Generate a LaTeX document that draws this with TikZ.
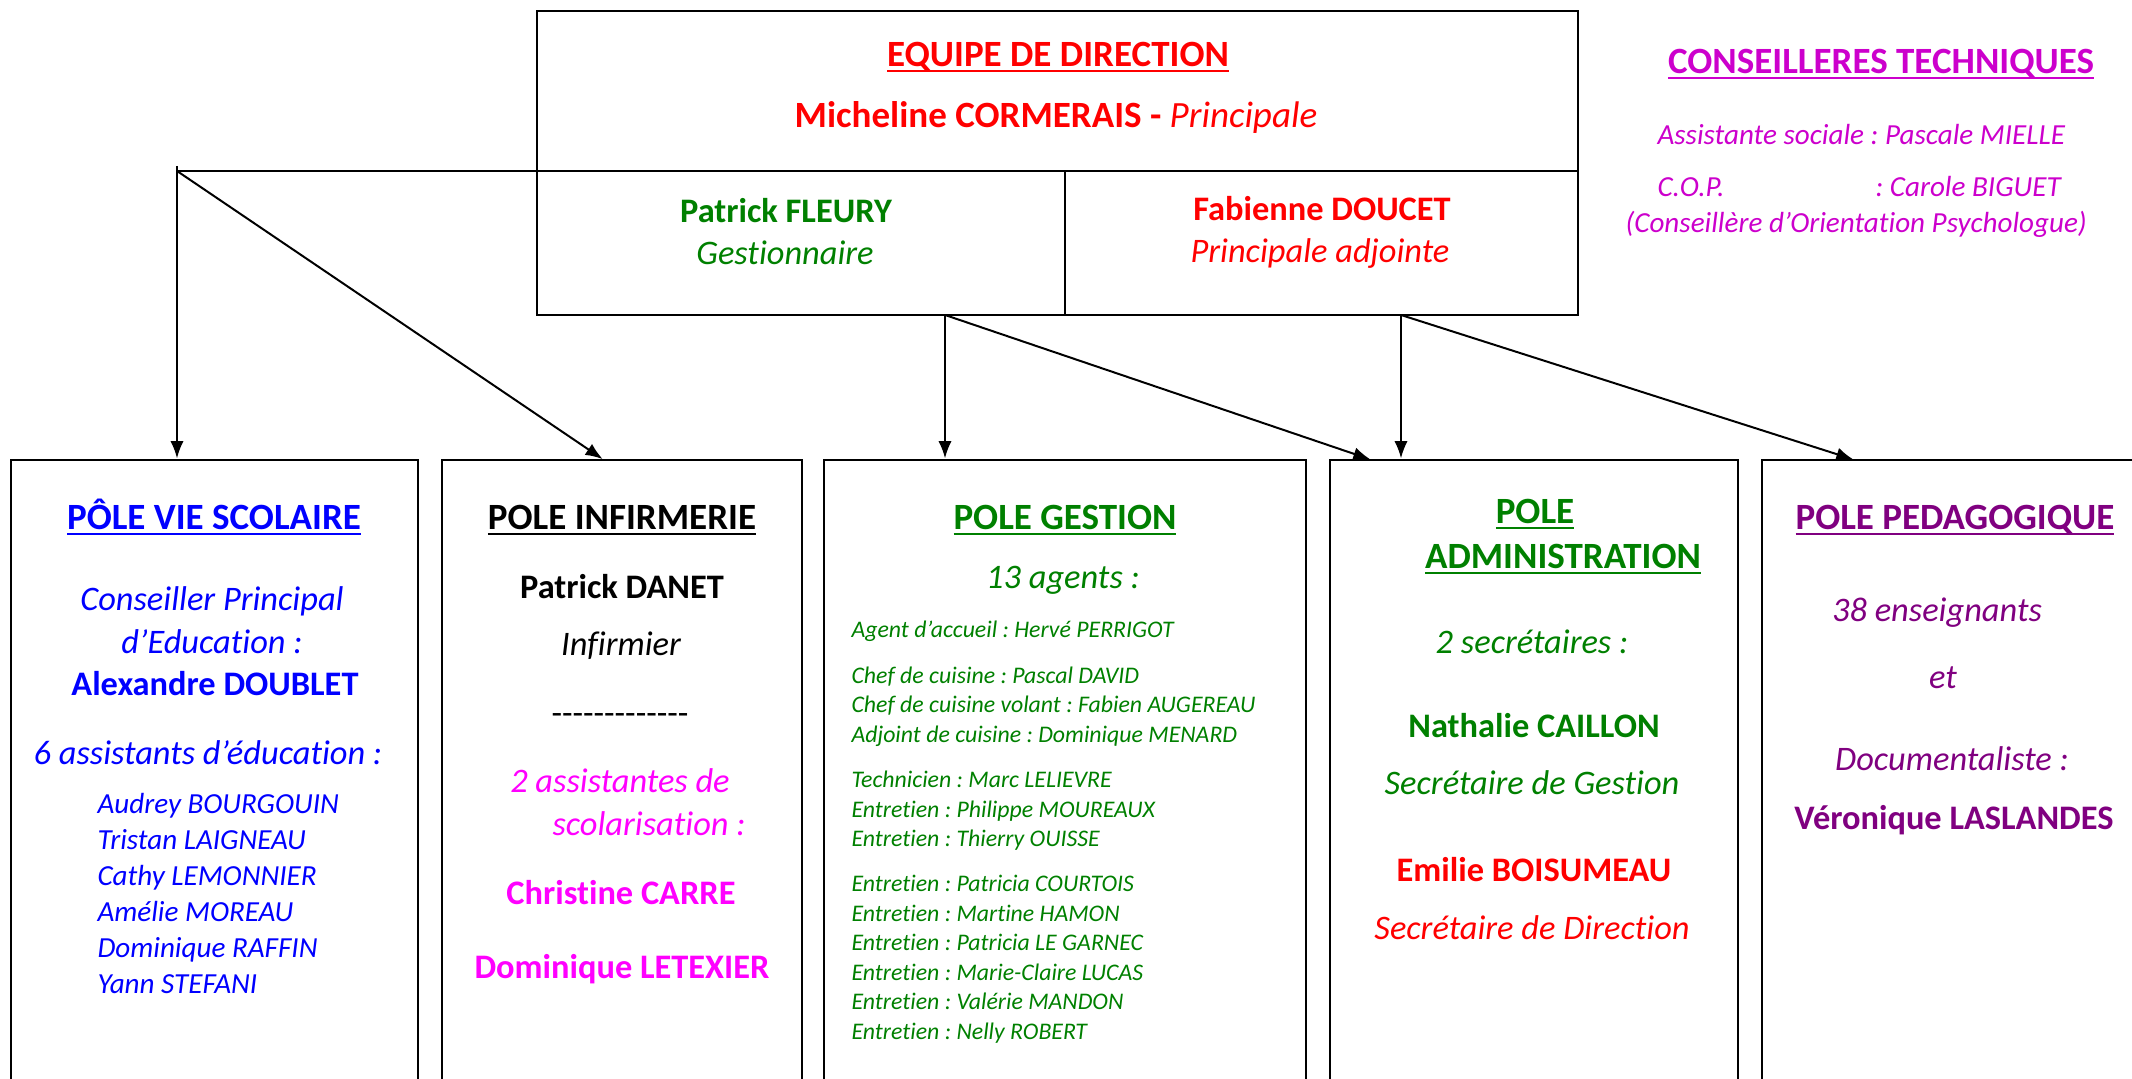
\documentclass[tikz,border=0pt]{standalone}
\usepackage{fontspec}
\setmainfont{Carlito}[Ligatures={NoCommon}]
\usetikzlibrary{arrows.meta,calc}
\definecolor{cred}{HTML}{FF0000}
\definecolor{cgreen}{HTML}{008000}
\definecolor{cblue}{HTML}{0000FF}
\definecolor{cmag}{HTML}{FF00FF}
\definecolor{cct}{HTML}{CC00CC}
\definecolor{cpurple}{HTML}{800080}
\newcommand{\myul}[1]{\setbox0=\hbox{#1}\rlap{\rule[-0.14em]{\wd0}{0.065em}}\box0}
\newcommand{\fA}{\fontsize{14}{17}\selectfont}
\newcommand{\fB}{\fontsize{13}{16}\selectfont}
\newcommand{\fC}{\fontsize{11}{13}\selectfont}
\newcommand{\fD}{\fontsize{9}{11}\selectfont}
\newcommand{\hy}{\mbox{-}}
\frenchspacing
\begin{document}
\begin{tikzpicture}[x=0.378pt, y=-0.378pt,
  box/.style={draw, line width=0.95pt, inner sep=0pt, outer sep=0pt, anchor=north west},
  lbl/.style={inner sep=0pt, anchor=base},
  lblw/.style={inner sep=0pt, anchor=base west},
  conn/.style={line width=0.75pt, -{Latex[length=6.5pt,width=5pt]}, shorten >=0.6pt}]
\useasboundingbox (0,0) rectangle (2132,1079);
\clip (0,0) rectangle (2132,1079);

% top box
\node[box, minimum width=1041*0.378pt, minimum height=160*0.378pt] (head) at (537,11) {};
\node[box, minimum width=528*0.378pt, minimum height=144*0.378pt] (fleury) at (537,171) {};
\node[box, minimum width=513*0.378pt, minimum height=144*0.378pt] (doucet) at (1065,171) {};

% poles
\node[box, minimum width=407*0.378pt, minimum height=640*0.378pt] (p1) at (11,460) {};
\node[box, minimum width=360*0.378pt, minimum height=640*0.378pt] (p2) at (442,460) {};
\node[box, minimum width=482*0.378pt, minimum height=640*0.378pt] (p3) at (824,460) {};
\node[box, minimum width=408*0.378pt, minimum height=640*0.378pt] (p4) at (1330,460) {};
\node[box, minimum width=420*0.378pt, minimum height=640*0.378pt] (p5) at (1762,460) {};

% connectors
\coordinate (jn) at (177,171);
\draw[line width=0.75pt] (head.south west) -- (jn);
\draw[conn] ($(jn)+(0,-5)$) -- (jn |- p1.north);
\draw[conn] (jn) -- ($(p2.north west)+(162,0)$);
\coordinate (f1) at ($(fleury.south west)+(408,0)$);
\draw[conn] (f1) -- (f1 |- p3.north);
\draw[conn] (f1) -- ($(p4.north west)+(42,0)$);
\coordinate (d1) at ($(doucet.south west)+(336,0)$);
\draw[conn] (d1) -- (d1 |- p4.north);
\draw[conn] (d1) -- ($(p5.north west)+(93,0)$);

% top texts
\node[lbl, text=cred, font=\fA\bfseries] (t1) at (1058,67) {\myul{EQUIPE DE DIRECTION}};
\node[lbl, text=cred, font=\fA] (t2) at (1056,128) {\textbf{Micheline CORMERAIS -} \textit{Principale}};
\node[lbl, text=cgreen, font=\fB\bfseries] (t3) at (786,223) {Patrick FLEURY};
\node[lbl, text=cgreen, font=\fB\itshape] (t4) at (785,265) {Gestionnaire};
\node[lbl, text=cred, font=\fB\bfseries] (t5) at (1322,221) {Fabienne DOUCET};
\node[lbl, text=cred, font=\fB\itshape] (t6) at (1320,263) {Principale adjointe};

% conseilleres
\node[lbl, text=cct, font=\fA\bfseries] (c1) at (1881,74) {\myul{CONSEILLERES TECHNIQUES}};
\node[lblw, text=cct, font=\fC\itshape] (c2) at (1657,145) {Assistante sociale : Pascale MIELLE};
\node[lblw, text=cct, font=\fC\itshape] (c3) at (1657,197) {C.O.P.};
\node[lblw, text=cct, font=\fC\itshape] (c4) at (1875,197) {: Carole BIGUET};
\node[lblw, text=cct, font=\fC\itshape] (c5) at (1625,233) {(Conseillère d’Orientation Psychologue)};

% pole vie scolaire
\node[lbl, text=cblue, font=\fA\bfseries] (a1) at (214,530) {\myul{PÔLE VIE SCOLAIRE}};
\node[lbl, text=cblue, font=\fB\itshape] (a2) at (212,611) {Conseiller Principal};
\node[lbl, text=cblue, font=\fB\itshape] (a3) at (212,654) {d’Education :};
\node[lbl, text=cblue, font=\fB\bfseries] (a4) at (215,696) {Alexandre DOUBLET};
\node[lbl, text=cblue, font=\fB\itshape] (a5) at (208,765) {6 assistants d’éducation :};
\foreach \n [count=\i] in {Audrey BOURGOUIN, Tristan LAIGNEAU, Cathy LEMONNIER, Amélie MOREAU, Dominique RAFFIN, Yann STEFANI}
  \node[lblw, text=cblue, font=\fC\itshape] (an\i) at (97,778+36*\i) {\n};

% pole infirmerie
\node[lbl, font=\fA\bfseries] (b1) at (622,530) {\myul{POLE INFIRMERIE}};
\node[lbl, font=\fB\bfseries] (b2) at (622,599) {Patrick DANET};
\node[lbl, font=\fB\itshape] (b3) at (621,656) {Infirmier};
\node[lbl, font=\fB] (b4) at (620,725) {\hy\hy\hy\hy\hy\hy\hy\hy\hy\hy\hy\hy\hy};
\node[lbl, text=cmag, font=\fB\itshape] (b5) at (620,793) {2 assistantes de};
\node[lblw, text=cmag, font=\fB\itshape] (b6) at (552,836) {scolarisation :};
\node[lbl, text=cmag, font=\fB\bfseries] (b7) at (621,905) {Christine CARRE};
\node[lbl, text=cmag, font=\fB\bfseries] (b8) at (622,979) {Dominique LETEXIER};

% pole gestion
\node[lbl, text=cgreen, font=\fA\bfseries] (g1) at (1065,530) {\myul{POLE GESTION}};
\node[lbl, text=cgreen, font=\fB\itshape] (g2) at (1063,589) {13 agents :};
\foreach \yy/\s [count=\i] in {638/Agent d’accueil : Hervé PERRIGOT,
  684/Chef de cuisine : Pascal DAVID,
  713/Chef de cuisine volant : Fabien AUGEREAU,
  743/Adjoint de cuisine : Dominique MENARD,
  788/Technicien : Marc LELIEVRE,
  818/Entretien : Philippe MOUREAUX,
  847/Entretien : Thierry OUISSE,
  892/Entretien : Patricia COURTOIS,
  922/Entretien : Martine HAMON,
  951/Entretien : Patricia LE GARNEC,
  981/Entretien : Marie-Claire LUCAS,
  1010/Entretien : Valérie MANDON,
  1040/Entretien : Nelly ROBERT}
  \node[lblw, text=cgreen, font=\fD\itshape] (gl\i) at (851,\yy) {\s};

% pole administration
\node[lbl, text=cgreen, font=\fA\bfseries] (d1t) at (1535,524) {\myul{POLE}};
\node[lbl, text=cgreen, font=\fA\bfseries] (d2t) at (1563,569) {\myul{ADMINISTRATION}};
\node[lbl, text=cgreen, font=\fB\itshape] (d3t) at (1532,654) {2 secrétaires :};
\node[lbl, text=cgreen, font=\fB\bfseries] (d4t) at (1534,738) {Nathalie CAILLON};
\node[lbl, text=cgreen, font=\fB\itshape] (d5t) at (1532,795) {Secrétaire de Gestion};
\node[lbl, text=cred, font=\fB\bfseries] (d6t) at (1534,882) {Emilie BOISUMEAU};
\node[lbl, text=cred, font=\fB\itshape] (d7t) at (1532,940) {Secrétaire de Direction};

% pole pedagogique
\node[lbl, text=cpurple, font=\fA\bfseries] (e1) at (1955,530) {\myul{POLE PEDAGOGIQUE}};
\node[lbl, text=cpurple, font=\fB\itshape] (e2) at (1937,622) {38 enseignants};
\node[lbl, text=cpurple, font=\fB\itshape] (e3) at (1943,689) {et};
\node[lbl, text=cpurple, font=\fB\itshape] (e4) at (1952,771) {Documentaliste :};
\node[lbl, text=cpurple, font=\fB\bfseries] (e5) at (1954,830) {Véronique LASLANDES};
\end{tikzpicture}
\end{document}
